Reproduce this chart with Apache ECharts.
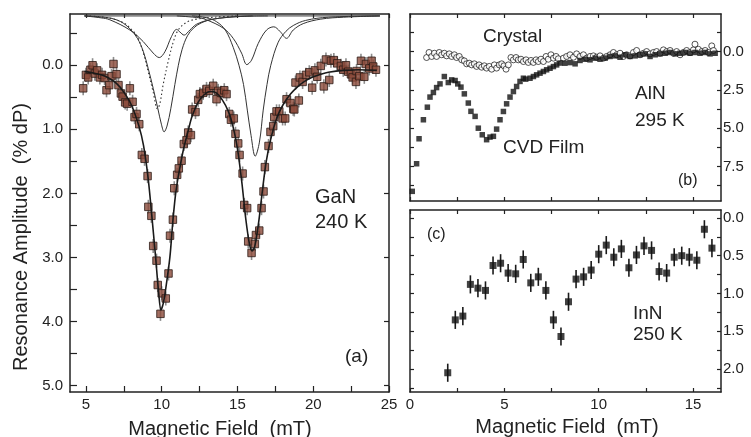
<!DOCTYPE html>
<html><head><meta charset="utf-8">
<script src="https://cdn.jsdelivr.net/npm/echarts@6/dist/echarts.min.js"></script>
<style>html,body{margin:0;padding:0;background:#fff}#c{width:751px;height:437px}</style>
</head><body><div id="c"></div>
<script>
// ---------- Panel (a): GaN 240 K ----------
const gaNPoints = [
[4.82,0.36],[5.0,0.15],[5.15,0.19],[5.3,0.07],[5.44,0.0],[5.59,0.13],[5.74,0.08],[5.92,0.19],[6.07,0.15],[6.23,0.20],
[6.36,0.39],[6.54,0.31],[6.69,0.17],[6.82,-0.02],[7.02,0.14],[7.15,0.31],[7.31,0.44],[7.42,0.49],[7.59,0.58],[7.72,0.60],
[7.9,0.36],[8.08,0.57],[8.21,0.81],[8.34,0.76],[8.52,0.92],[8.69,1.40],[8.87,1.46],[9.07,1.73],[9.12,2.21],[9.32,2.35],
[9.44,2.82],[9.66,3.05],[9.74,3.43],[10.0,3.56],[9.92,3.88],[10.27,3.64],[10.45,3.25],[10.55,2.66],[10.74,2.41],[10.83,1.92],
[11.02,1.71],[11.13,1.61],[11.31,1.49],[11.46,1.23],[11.64,1.17],[11.75,1.05],[11.93,1.09],[12.01,0.69],[12.23,0.73],[12.41,0.54],
[12.52,0.45],[12.74,0.43],[12.96,0.37],[13.14,0.40],[13.4,0.32],[13.62,0.53],[13.73,0.40],[13.91,0.43],[14.13,0.39],[14.28,0.45],
[14.46,0.76],[14.57,0.85],[14.76,0.83],[14.87,1.07],[15.05,1.22],[15.14,1.40],[15.34,1.69],[15.45,2.18],[15.64,2.23],[15.71,2.75],
[15.93,2.93],[16.15,2.79],[16.22,2.65],[16.44,2.58],[16.59,2.23],[16.72,1.97],[16.81,1.59],[17.05,1.26],[17.18,1.04],[17.36,0.95],
[17.43,0.81],[17.58,0.72],[17.76,0.72],[17.98,0.83],[18.15,0.83],[18.24,0.53],[18.5,0.59],[18.68,0.68],[18.75,0.69],[18.83,0.27],
[19.05,0.55],[19.12,0.19],[19.3,0.26],[19.52,0.15],[19.74,0.11],[19.93,0.35],[20.11,0.08],[20.26,0.18],[20.5,0.01],[20.7,0.33],
[20.84,-0.09],[21.06,0.23],[21.17,-0.07],[21.36,-0.08],[21.58,-0.03],[21.83,0.01],[21.98,0.07],[22.16,0.0],[22.31,0.10],[22.49,0.14],
[22.6,0.19],[22.82,0.26],[22.86,0.09],[23.04,0.17],[23.15,-0.07],[23.37,0.18],[23.48,-0.02],[23.7,0.05],[23.85,-0.07],[23.96,0.02],[24.14,0.07]
];
const gaNError = 0.11;
const gaNFit = [
[4.9,0.10],[5.5,0.12],[6,0.15],[6.5,0.20],[7,0.28],[7.5,0.42],[8,0.62],[8.5,0.95],[8.8,1.25],[9.1,1.75],[9.33,2.3],
[9.6,3.0],[9.8,3.55],[9.95,3.82],[10.1,3.72],[10.26,3.5],[10.54,3.0],[10.75,2.4],[10.95,1.95],[11.2,1.6],[11.45,1.3],
[11.75,1.02],[12.0,0.8],[12.4,0.58],[12.8,0.46],[13.2,0.41],[13.6,0.43],[14.0,0.54],[14.4,0.72],[14.7,0.95],[15.0,1.3],
[15.3,1.85],[15.55,2.4],[15.8,2.8],[15.97,2.9],[16.15,2.82],[16.4,2.45],[16.65,1.95],[16.9,1.5],[17.2,1.15],[17.6,0.82],
[18.0,0.62],[18.5,0.45],[19.0,0.33],[19.5,0.24],[20.0,0.18],[20.5,0.14],[21,0.11],[22,0.08],[23,0.07],[24.2,0.08]
];
const compDotted = [[5.0,-0.77],[6.5,-0.74],[7.5,-0.66],[8.0,-0.56],[8.38,-0.45],[8.78,-0.2],[9.11,0.1],[9.44,0.42],[9.72,0.68],
[9.88,0.6],[10.1,0.3],[10.43,-0.06],[10.76,-0.36],[11.09,-0.55],[11.64,-0.67],[12.3,-0.72],[13.5,-0.75],[15,-0.77]];
const compUpperL = [[4.9,-0.77],[6,-0.74],[6.58,-0.71],[7.9,-0.55],[8.78,-0.37],[9.44,-0.19],[9.84,-0.12],[10.21,-0.21],
[10.65,-0.45],[10.98,-0.56],[11.2,-0.52],[11.48,-0.47],[11.86,-0.55],[12.3,-0.64],[13.18,-0.71],[14.5,-0.75],[16,-0.77]];
const compDeepL = [[4.9,-0.77],[6.5,-0.74],[7.3,-0.68],[7.9,-0.57],[8.4,-0.42],[8.78,-0.22],[9.11,0.05],[9.44,0.36],[9.75,0.68],
[9.99,0.93],[10.16,1.04],[10.35,0.95],[10.6,0.68],[10.87,0.3],[11.1,0.0],[11.35,-0.25],[11.7,-0.46],[12.1,-0.58],[12.6,-0.66],
[13.4,-0.72],[15,-0.76],[17,-0.77]];
const compUpperR = [[11,-0.77],[12.5,-0.74],[12.96,-0.71],[14.06,-0.58],[14.72,-0.42],[15.27,-0.19],[15.62,-0.01],[15.93,-0.08],
[16.37,-0.34],[16.92,-0.55],[17.4,-0.6],[17.8,-0.53],[18.24,-0.42],[18.68,-0.55],[19.34,-0.65],[20.5,-0.72],[22,-0.75],[24.4,-0.77]];
const compDeepR = [[12,-0.77],[13,-0.74],[13.62,-0.68],[14.2,-0.55],[14.72,-0.28],[15.1,0.0],[15.4,0.3],[15.65,0.7],[15.9,1.1],
[16.17,1.42],[16.45,1.2],[16.7,0.7],[16.95,0.3],[17.2,0.0],[17.69,-0.36],[18.2,-0.53],[18.68,-0.62],[19.5,-0.7],[21,-0.75],[24.4,-0.77]];
const compBaseline = [[4.9,-0.77],[24.4,-0.77]];

// ---------- Panel (b): AlN 295 K ----------
const alnFilm = [
[0.12,9.12],[0.35,7.32],[0.48,5.69],[0.71,4.45],[0.92,3.63],[1.06,2.97],[1.24,2.67],[1.41,2.35],[1.59,2.11],[1.82,1.63],
[2.03,2.02],[2.21,1.85],[2.39,1.89],[2.53,2.11],[2.70,2.32],[2.88,2.76],[3.09,3.36],[3.23,3.90],[3.45,4.23],[3.62,5.0],
[3.83,5.43],[4.06,5.75],[4.24,5.58],[4.42,5.53],[4.59,5.06],[4.77,4.45],[4.95,3.91],[5.12,3.41],[5.30,2.97],[5.48,2.61],
[5.65,2.28],[5.83,1.95],[6.01,1.74],[6.13,1.80],[6.36,1.74],[6.54,1.63],[6.71,1.52],[6.89,1.41],[7.07,1.30],[7.24,1.19],
[7.42,1.09],[7.6,0.98],[7.77,0.87],[7.95,0.75],[8.21,0.76],[8.48,0.72],[8.75,0.80],[9.01,0.58],[9.28,0.50],[9.54,0.54],
[9.81,0.43],[10.07,0.50],[10.34,0.43],[10.6,0.32],[10.87,0.28],[11.13,0.37],[11.4,0.21],[11.66,0.32],[11.93,0.28],[12.19,0.21],
[12.46,0.15],[12.72,0.32],[12.99,0.21],[13.25,0.15],[13.52,0.11],[13.78,0.06],[14.05,0.15],[14.31,0.11],[14.58,0.06],[14.84,0.11],
[15.11,0.06],[15.37,0.11],[15.64,0.06],[15.9,0.15],[16.17,0.11]
];
const alnCrystal = [
[0.88,0.39],[1.01,0.06],[1.15,0.32],[1.29,0.11],[1.41,0.32],[1.55,0.06],[1.68,0.21],[1.82,0.11],[1.94,0.28],[2.08,0.15],
[2.21,0.32],[2.35,0.21],[2.47,0.39],[2.61,0.32],[2.74,0.54],[2.88,0.61],[3.0,0.80],[3.14,0.76],[3.27,0.87],[3.41,0.80],
[3.53,0.97],[3.66,0.87],[3.80,1.02],[3.94,0.93],[4.06,1.08],[4.20,0.97],[4.33,1.15],[4.47,0.87],[4.59,1.08],[4.73,0.87],
[4.86,0.80],[4.98,0.93],[5.09,1.15],[5.21,0.87],[5.35,0.39],[5.48,0.54],[5.62,0.39],[5.74,0.54],[5.88,0.50],[6.01,0.65],
[6.15,0.54],[6.27,0.71],[6.41,0.58],[6.54,0.71],[6.68,0.54],[6.80,0.65],[6.94,0.50],[7.07,0.65],[7.21,0.32],[7.33,0.50],
[7.47,0.21],[7.60,0.43],[7.74,0.32],[7.86,0.47],[8.13,0.43],[8.3,0.32],[8.48,0.21],[8.66,0.37],[8.83,0.15],[9.01,0.32],
[9.19,0.21],[9.36,0.43],[9.54,0.32],[9.72,0.28],[9.89,0.37],[10.07,0.28],[10.25,0.43],[10.42,0.32],[10.6,0.21],[10.78,0.06],
[10.95,0.21],[11.13,0.11],[11.31,0.32],[11.48,0.21],[11.66,0.28],[11.84,0.06],[12.01,-0.07],[12.19,0.21],[12.37,0.11],[12.54,0.0],
[12.72,0.15],[12.9,0.06],[13.07,0.0],[13.25,0.11],[13.43,-0.11],[13.6,0.0],[13.78,-0.07],[13.96,0.11],[14.13,0.0],[14.31,0.21],
[14.49,0.06],[14.66,-0.07],[14.84,0.06],[15.02,-0.11],[15.1,-0.48],[15.28,-0.15],[15.46,0.0],[15.64,-0.07],[15.81,0.06],[15.99,-0.37],[16.08,-0.07]
];

// ---------- Panel (c): InN 250 K ----------
const innField = [2.0,2.4,2.8,3.2,3.6,4.0,4.4,4.8,5.2,5.6,6.0,6.4,6.8,7.2,7.6,8.0,8.4,8.8,9.2,9.6,10.0,10.4,10.8,11.2,11.6,12.0,12.4,12.8,13.2,13.6,14.0,14.4,14.8,15.2,15.6,16.0];
const innAmp = [2.05,1.35,1.30,0.88,0.93,0.96,0.63,0.60,0.73,0.74,0.55,0.86,0.78,0.96,1.35,1.57,1.11,0.81,0.78,0.69,0.48,0.36,0.52,0.41,0.66,0.49,0.37,0.43,0.71,0.73,0.52,0.50,0.52,0.56,0.15,0.40];
const innError = 0.12;

// ---------- Tick / label values ----------
const aXTicks = [5,7.5,10,12.5,15,17.5,20,22.5,25];
const aXLabels = [5,10,15,20,25];
const aYTicks = [-0.5,0,0.5,1,1.5,2,2.5,3,3.5,4,4.5,5];
const aYLabels = [0,1,2,3,4,5];
const bcXTicks = [0,2.5,5,7.5,10,12.5,15];
const cXLabels = [0,5,10,15];
const bYTicks = [-1.25,0,1.25,2.5,3.75,5,6.25,7.5,8.75];
const bYLabels = [0,2.5,5,7.5];
const cYTicks = [0,0.25,0.5,0.75,1,1.25,1.5,1.75,2,2.25];
const cYLabels = [0,0.5,1,1.5,2];

const FONT = '"Liberation Sans", Arial, Helvetica, sans-serif';
const INK = '#222';
const innData = innField.map((x,i)=>[x, innAmp[i]]);

function axis(o){
  return {
    type:'value', gridIndex:o.g, position:o.pos, min:o.min, max:o.max, inverse:!!o.inv,
    axisLine:{show:true, onZero:false, lineStyle:{color:INK, width:1.5}},
    axisTick:{show:true, inside:true, length:o.tl||5, customValues:o.ticks, lineStyle:{color:INK, width:1.2}},
    axisLabel:{show:!!o.labels, customValues:o.labels||[], margin:o.margin||6, color:INK, fontSize:15, fontFamily:FONT,
      formatter:o.fmt||(v=>String(v)), showMinLabel:true, showMaxLabel:true},
    splitLine:{show:false}
  };
}
function errBars(xi, yi, data, err, color, w){
  return {type:'custom', xAxisIndex:xi, yAxisIndex:yi, z:1, silent:true,
    data:data.map(d=>[d[0], d[1], err]),
    renderItem:(p, api)=>{
      const x=api.value(0), y=api.value(1), e=api.value(2);
      const a=api.coord([x,y-e]), b=api.coord([x,y+e]);
      return {type:'line', shape:{x1:a[0],y1:a[1],x2:b[0],y2:b[1]}, style:{stroke:color, lineWidth:w}};
    }};
}
function curve(data, opts){
  return Object.assign({type:'line', xAxisIndex:0, yAxisIndex:0, data:data, smooth:0.35, showSymbol:false, symbol:'none',
    silent:true, lineStyle:{color:'#333', width:1}, z:2}, opts||{});
}
const f1 = v=>Number(v).toFixed(1);

function txt(x,y,s,size,align,rot){
  return {type:'text', x:x, y:y, rotation:rot||0, silent:true,
    style:{text:s, fill:INK, font:`${size}px ${FONT}`, align:align||'left', verticalAlign:'middle'}};
}

const option = {
  animation:false,
  backgroundColor:'#fff',
  grid:[
    {left:70, top:14, width:319, height:378},
    {left:410, top:14, width:311, height:187},
    {left:410, top:210, width:311, height:182}
  ],
  xAxis:[
    axis({g:0,pos:'bottom',min:3.95,max:25,ticks:aXTicks,labels:aXLabels,tl:6,margin:5}),
    axis({g:0,pos:'top',min:3.95,max:25,ticks:aXTicks,tl:4}),
    axis({g:1,pos:'bottom',min:0,max:16.48,ticks:bcXTicks,tl:4}),
    axis({g:1,pos:'top',min:0,max:16.48,ticks:bcXTicks,tl:4}),
    axis({g:2,pos:'bottom',min:0,max:16.48,ticks:bcXTicks,labels:cXLabels,tl:4,margin:5}),
    axis({g:2,pos:'top',min:0,max:16.48,ticks:bcXTicks,tl:4})
  ],
  yAxis:[
    axis({g:0,pos:'left',min:-0.8,max:5.1,inv:true,ticks:aYTicks,labels:aYLabels,tl:7,margin:7,fmt:f1}),
    axis({g:0,pos:'right',min:-0.8,max:5.1,inv:true,ticks:aYLabels,tl:5}),
    axis({g:1,pos:'left',min:-2.45,max:9.75,inv:true,ticks:bYTicks,tl:4}),
    axis({g:1,pos:'right',min:-2.45,max:9.75,inv:true,ticks:bYTicks,labels:bYLabels,tl:4,margin:2,fmt:f1}),
    axis({g:2,pos:'left',min:-0.105,max:2.305,inv:true,ticks:cYTicks,tl:4}),
    axis({g:2,pos:'right',min:-0.105,max:2.305,inv:true,ticks:cYTicks,labels:cYLabels,tl:4,margin:2,fmt:f1})
  ],
  series:[
    curve(compBaseline,{smooth:false}),
    curve(compUpperL),
    curve(compDeepL),
    curve(compUpperR),
    curve(compDeepR),
    curve(compDotted,{lineStyle:{color:'#333', width:1.1, type:[1.5,2.5]}}),
    errBars(0,0,gaNPoints,gaNError,'#8d8d8d',1.6),
    {type:'scatter', xAxisIndex:0, yAxisIndex:0, data:gaNPoints, symbol:'rect', symbolSize:7.5, z:3,
      itemStyle:{color:'#8b4a3a', borderColor:'#2d1c16', borderWidth:1}},
    curve(gaNFit,{lineStyle:{color:'#1a1a1a', width:1.6}, z:4, smooth:0.3}),
    {type:'scatter', xAxisIndex:2, yAxisIndex:2, data:alnCrystal, symbol:'circle', symbolSize:6, z:3,
      itemStyle:{color:'#fff', borderColor:'#111', borderWidth:0.9}},
    {type:'scatter', xAxisIndex:2, yAxisIndex:2, data:alnFilm, symbol:'rect', symbolSize:5.5, z:4,
      itemStyle:{color:'#111'}},
    errBars(4,4,innData,innError,'#1a1a1a',1.6),
    {type:'scatter', xAxisIndex:4, yAxisIndex:4, data:innData, symbol:'rect', symbolSize:7, z:3,
      itemStyle:{color:'#111'}}
  ],
  graphic:[
    txt(21,237,'Resonance Amplitude  (% dP)',20,'center',Math.PI/2),
    txt(220,429,'Magnetic Field  (mT)',20,'center'),
    txt(567,427,'Magnetic Field  (mT)',20,'center'),
    txt(315,197,'GaN',20), txt(315,222,'240 K',20),
    txt(345,357,'(a)',19),
    txt(483,37,'Crystal',19),
    txt(635,94,'AlN',19), txt(635,121,'295 K',19),
    txt(503,148,'CVD Film',19),
    txt(678,181,'(b)',16),
    txt(427,235,'(c)',16),
    txt(633,314,'InN',19), txt(633,335,'250 K',19)
  ]
};
const chart = echarts.init(document.getElementById('c'), null, {renderer:'canvas'});
chart.setOption(option);
</script></body></html>
